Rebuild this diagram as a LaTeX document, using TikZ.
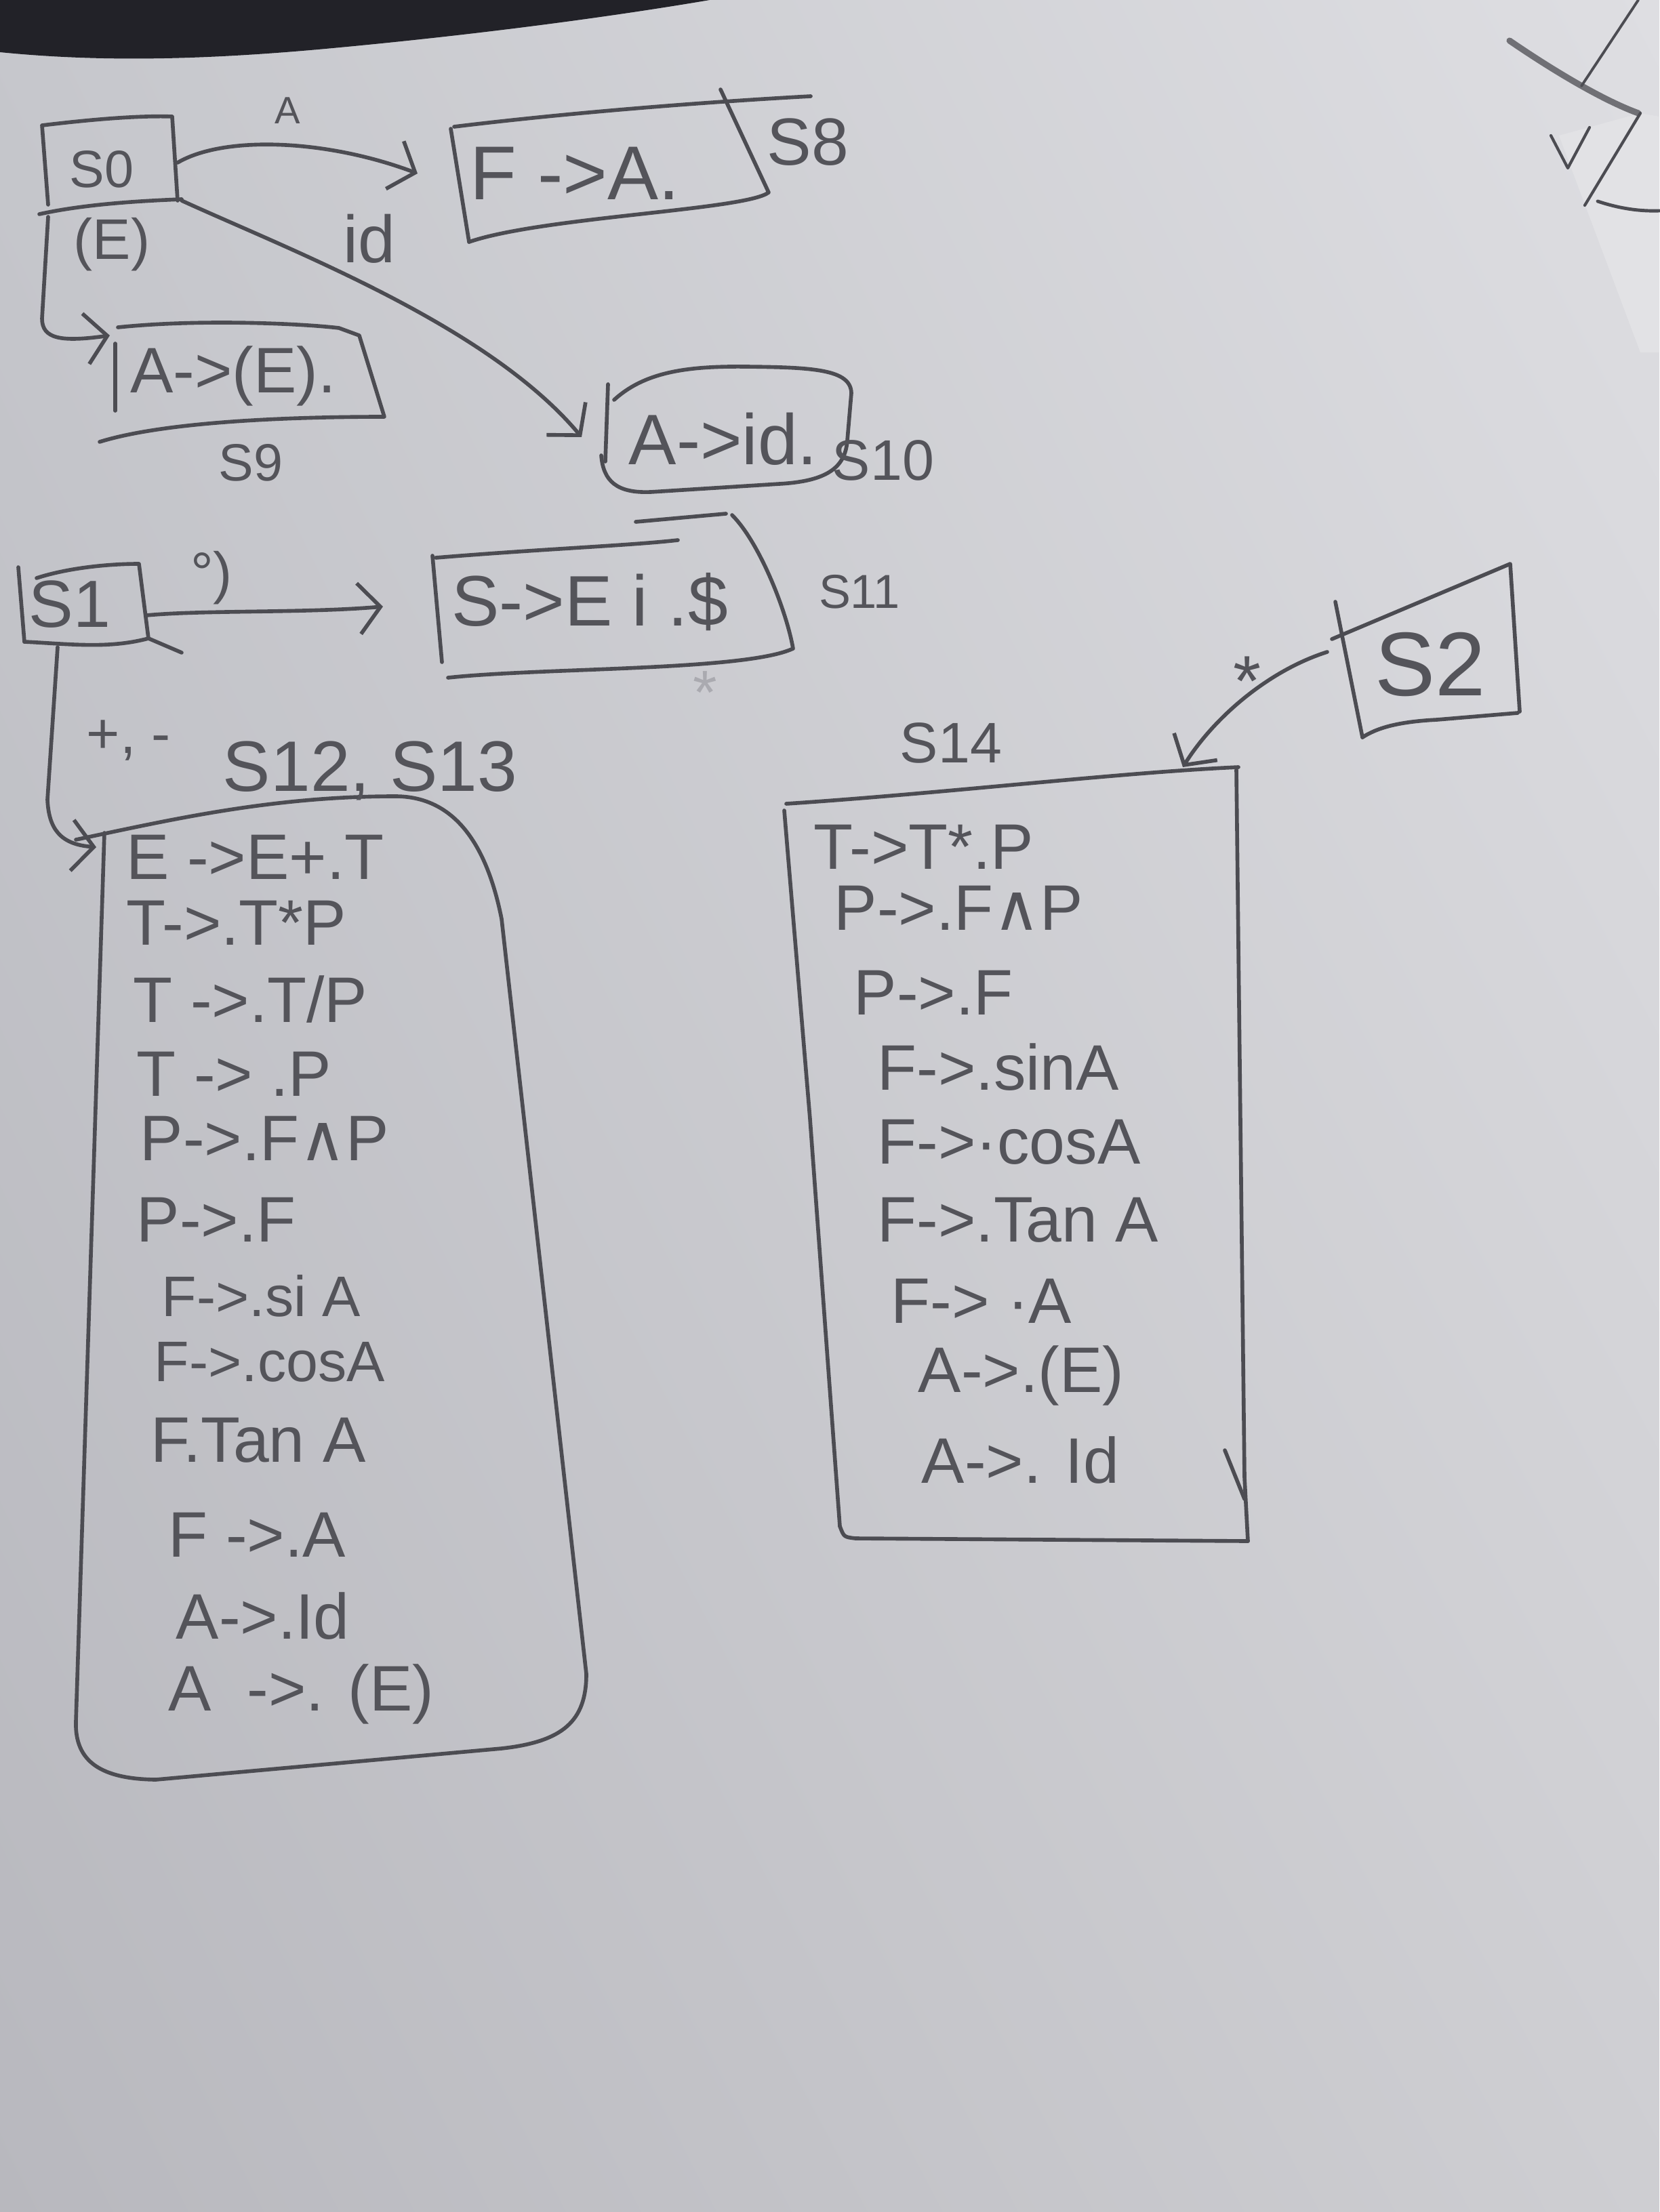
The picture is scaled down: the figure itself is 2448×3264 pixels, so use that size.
\documentclass[tikz,border=0pt]{standalone}
\usepackage{fontspec}
\setmainfont{Liberation Sans}
\newfontfamily\symf{DejaVu Sans}
\usetikzlibrary{arrows.meta,shadings}
\definecolor{pencil}{RGB}{76,76,82}
\definecolor{ink}{RGB}{84,84,90}
\definecolor{faint}{RGB}{170,170,176}
\definecolor{tabletop}{RGB}{34,34,40}
\definecolor{paperUL}{RGB}{198,199,204}
\definecolor{paperUR}{RGB}{222,222,226}
\definecolor{paperLL}{RGB}{184,184,190}
\definecolor{paperLR}{RGB}{206,206,210}
\definecolor{sheet}{RGB}{226,226,229}
\newcommand{\wdg}{{\symf ∧}}
\begin{document}
\begin{tikzpicture}[x=0.01cm,y=-0.01cm,
  pen/.style={draw=pencil, line width=1.6pt, line cap=round, line join=round},
  arr/.style={pen, -{Straight Barb[length=0.32cm,width=0.75cm]}},
  lab/.style={text=ink, inner sep=0pt, font=\fontsize{#1}{#1}\selectfont},
  item/.style={text=ink, inner sep=0pt, anchor=west, font=\fontsize{27}{30}\selectfont}]
\useasboundingbox (0,0) rectangle (2448,3264);
% paper and table edge
\shade[upper left=paperUL, upper right=paperUR, lower left=paperLL, lower right=paperLR] (0,0) rectangle (2448,3264);
\fill[tabletop] (0,0) -- (1047,0) .. controls (900,25) and (700,52) .. (469,73) .. controls (300,88) and (150,92) .. (0,77) -- cycle;
% second sheet in the corner
\fill[sheet] (2300,200) -- (2420,167) -- (2448,172) -- (2448,520) -- (2420,520) -- cycle;
\draw[pen, line width=2.6pt, draw=pencil!80] (2227,60) .. controls (2300,110) and (2370,150) .. (2417,167);
\draw[pen, line width=1.1pt] (2417,0) -- (2333,127);
\draw[pen, line width=1.2pt] (2288,200) -- (2313,248) -- (2345,188);
\draw[pen, line width=1.2pt] (2420,167) -- (2338,303);
\draw[pen, line width=1.4pt] (2357,297) .. controls (2390,308) and (2420,312) .. (2448,311);

% ---------- state S0 and its successors ----------
\draw[pen] (71,302) -- (62,185) .. controls (120,178) and (200,170) .. (254,172) -- (262,296);
\draw[pen] (58,316) .. controls (130,300) and (220,296) .. (268,294);
\node[lab=22] (s0) at (150,250) {S0};
\coordinate (s0e) at (262,240);
\coordinate (s0se) at (268,296);
\coordinate (s0sw) at (71,320);

% S8
\draw[pen] (665,190) -- (692,357);
\draw[pen] (670,187) .. controls (850,165) and (1050,150) .. (1196,142);
\draw[pen] (1063,132) -- (1134,284) .. controls (1100,310) and (800,320) .. (692,357);
\node[lab=32] (s8) at (848,256) {F ->A.};
\node[lab=28] (s8name) at (1192,210) {S8};
\coordinate (s8w) at (616,256);
\draw[arr] (s0e) .. controls (330,200) and (480,205) .. (s8w);
\node[lab=16] (tA) at (424,163) {A};

% S10
\draw[pen] (897,567) -- (893,681);
\draw[pen] (906,590) .. controls (950,550) and (1010,540) .. (1100,541) .. controls (1200,542) and (1255,545) .. (1256,580) -- (1250,650) .. controls (1247,690) and (1220,710) .. (1150,714) -- (960,726) .. controls (910,728) and (890,710) .. (887,672);
\node[lab=30] (s10) at (1067,648) {A->id.};
\node[lab=24] (s10name) at (1303,679) {S10};
\coordinate (s10w) at (858,645);
\draw[arr] (s0se) .. controls (430,370) and (720,480) .. (s10w);
\node[lab=28] (tid) at (545,352) {id};

% S9
\draw[pen] (170,507) -- (170,606);
\draw[pen] (174,483) .. controls (300,470) and (450,478) .. (500,484) -- (530,495) -- (567,615) .. controls (450,615) and (250,620) .. (147,652);
\node[lab=27] (s9) at (344,555) {A->(E).};
\node[lab=22] (s9name) at (370,683) {S9};
\coordinate (s9w) at (162,495);
\draw[arr] (s0sw) -- (62,470) .. controls (62,500) and (90,505) .. (s9w);
\node[lab=24] (tE) at (165,361) {(E)};

% ---------- state S1 ----------
\draw[pen] (27,837) -- (36,947);
\draw[pen] (54,853) .. controls (100,838) and (160,832) .. (205,832) -- (219,942);
\draw[pen] (36,947) .. controls (100,950) and (160,958) .. (219,942) -- (268,963);
\node[lab=28] (s1) at (103,892) {S1};
\coordinate (s1e) at (216,908);
\coordinate (s1s) at (85,955);

% S11
\draw[pen] (638,820) -- (652,977);
\draw[pen] (643,823) .. controls (800,810) and (930,805) .. (1000,797);
\draw[pen] (938,770) -- (1071,758);
\draw[pen] (1080,760) .. controls (1120,800) and (1160,900) .. (1170,957) .. controls (1100,990) and (800,985) .. (661,1000);
\node[lab=30] (s11) at (870,888) {S->E i .\$};
\node[lab=20] (s11name) at (1268,873) {S11};
\coordinate (s11w) at (565,895);
\draw[arr] (s1e) .. controls (300,900) and (450,905) .. (s11w);
\node[lab=24] (tpar) at (312,853) {°)};

% S12, S13
\draw[pen] (154,1229) -- (112,2540) .. controls (110,2600) and (150,2625) .. (230,2626) -- (740,2580) .. controls (830,2570) and (865,2540) .. (865,2470) -- (740,1356) .. controls (715,1230) and (660,1175) .. (583,1175) .. controls (400,1175) and (250,1210) .. (112,1239);
\node[lab=30] (s12name) at (546,1137) {S12, S13};
\node[lab=24] (tpm) at (190,1093) {+, -};
\coordinate (s12w) at (142,1250);
\draw[arr] (s1s) -- (70,1180) .. controls (72,1222) and (88,1246) .. (s12w);
\node[item] (a1) at (186,1265) {E ->E+.T};
\node[item] (a2) at (186,1362) {T->.T*P};
\node[item] (a3) at (196,1475) {T ->.T/P};
\node[item] (a4) at (201,1585) {T -> .P};
\node[item] (a5) at (206,1680) {P->.F\wdg P};
\node[item] (a6) at (201,1800) {P->.F};
\node[item, font=\fontsize{24}{26}\selectfont] (a7) at (238,1912) {F->.si A};
\node[item, font=\fontsize{24}{26}\selectfont] (a8) at (227,2010) {F->.cosA};
\node[item] (a9) at (222,2125) {F.Tan A};
\node[item] (a10) at (248,2265) {F ->.A};
\node[item] (a11) at (259,2385) {A->.Id};
\node[item] (a12) at (248,2500) {A \ ->. (E)};

% ---------- state S2 and S14 ----------
\draw[pen] (1970,888) -- (2010,1088);
\draw[pen] (1965,943) -- (2228,832) -- (2242,1050);
\draw[pen] (2010,1088) .. controls (2030,1075) and (2060,1065) .. (2120,1062) -- (2239,1052);
\node[lab=38] (s2) at (2110,980) {S2};
\coordinate (s2w) at (1958,962);

\draw[pen] (1157,1196) -- (1195,1651) -- (1239,2252);
\draw[pen] (1160,1186) .. controls (1400,1170) and (1650,1140) .. (1827,1132);
\draw[pen] (1824,1136) -- (1836,2180) -- (1841,2274);
\draw[pen] (1239,2252) .. controls (1245,2268) .. (1262,2270) -- (1841,2274);
\draw[pen] (1807,2140) -- (1836,2212);
\node[lab=24] (s14name) at (1403,1096) {S14};
\coordinate (s14ne) at (1745,1132);
\draw[arr] (s2w) .. controls (1870,990) and (1790,1060) .. (s14ne);
\node[lab=30] (tstar) at (1840,1005) {*};
\node[lab=26, text=faint] (tfaint) at (1040,1022) {*};
\node[item] (b1) at (1200,1250) {T->T*.P};
\node[item] (b2) at (1230,1340) {P->.F\wdg P};
\node[item] (b3) at (1259,1465) {P->.F};
\node[item] (b4) at (1294,1575) {F->.sinA};
\node[item] (b5) at (1294,1685) {F->·cosA};
\node[item] (b6) at (1294,1800) {F->.Tan A};
\node[item] (b7) at (1314,1920) {F-> ·A};
\node[item] (b8) at (1354,2030) {A->.(E)};
\node[item] (b9) at (1359,2155) {A->. Id};
\end{tikzpicture}
\end{document}
